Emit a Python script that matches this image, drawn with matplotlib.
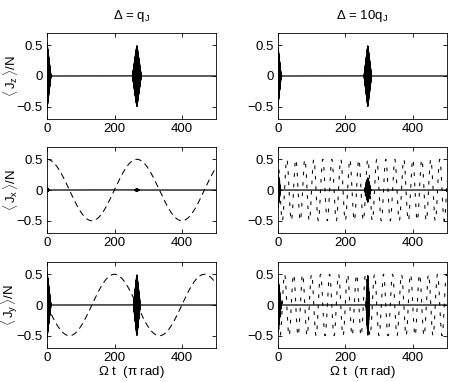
import numpy as np
import matplotlib
matplotlib.use("Agg")
from matplotlib import pyplot as plt

plt.rcParams['font.family'] = ['Liberation Sans', 'DejaVu Sans']
plt.rcParams['font.size'] = 9
plt.rcParams['mathtext.fontset'] = 'custom'
plt.rcParams['mathtext.rm'] = 'Liberation Sans'
plt.rcParams['mathtext.it'] = 'Liberation Sans'

# values
t_max = 500
amp = 0.5                      # amplitude of the dashed precession
slow_period = 266              # Delta = q_J
fast_period = 26.6             # Delta = 10 q_J
burst_centres = [0, 266]
carrier_period = 0.6           # fast oscillation inside the bursts

# burst (amplitude, half width) at each centre, per panel [row][col]
burst_amp = [[[0.55, 0.5], [0.5, 0.5]],
             [[0.03, 0.02], [0.3, 0.2]],
             [[0.55, 0.5], [0.45, 0.5]]]
burst_width = [[[12, 13], [10, 11]],
               [[8, 7], [8, 9]],
               [[12, 10], [10, 5]]]

titles = [r'$\Delta$ = q$_\mathrm{J}$', r'$\Delta$ = 10q$_\mathrm{J}$']
ylabels = [r'$\langle\,\mathrm{J}_z\,\rangle$/N',
           r'$\langle\,\mathrm{J}_x\,\rangle$/N',
           r'$\langle\,\mathrm{J}_y\,\rangle$/N']
xticks = [0, 200, 400]
yticks = [-0.5, 0, 0.5]

t = np.linspace(0, t_max, 40000)


def bursts(row, col):
    y = np.zeros_like(t)
    for c, a, w in zip(burst_centres, burst_amp[row][col], burst_width[row][col]):
        env = np.clip(1 - np.abs(t - c) / w, 0, None)
        y += a * env * np.cos(2 * np.pi * t / carrier_period)
    return y


fig = plt.figure(figsize=(4.51, 3.82), dpi=100)
lefts = [0.104, 0.616]
bottoms = [0.6885, 0.390, 0.089]
w, h = 0.375, 0.2251

for row in range(3):
    for col in range(2):
        ax = fig.add_axes([lefts[col], bottoms[row], w, h])
        period = [slow_period, fast_period][col]
        dash = [(0, (6, 4)), (0, (3.5, 6.5))][col]
        if row == 1:
            ax.plot(t, amp * np.cos(2 * np.pi * t / period), color='k',
                    lw=0.75, linestyle=dash)
        elif row == 2:
            ax.plot(t, -amp * np.sin(2 * np.pi * t / period), color='k',
                    lw=0.75, linestyle=dash)
        ax.plot(t, bursts(row, col), color='k', lw=0.9)
        ax.set_xlim(0, t_max)
        ax.set_ylim(-0.7, 0.7)
        ax.set_xticks(xticks)
        ax.set_yticks(yticks)
        ax.set_yticklabels(['\u22120.5', '0', '0.5'])
        ax.tick_params(direction='in', length=3, top=True, right=True,
                       labelsize=9.5, pad=3, width=0.6)
        for s in ax.spines.values():
            s.set_linewidth(0.6)
        if row == 0:
            ax.set_title(titles[col], fontsize=9.5, pad=10)
        if col == 0:
            ax.set_ylabel(ylabels[row], fontsize=9.5)
            ax.yaxis.set_label_coords(-0.16, 0.5)
        if row == 2:
            ax.set_xlabel(r'$\Omega$ t  ($\pi$ rad)', fontsize=9.5, labelpad=0)

fig.savefig('out.png', dpi=100)
